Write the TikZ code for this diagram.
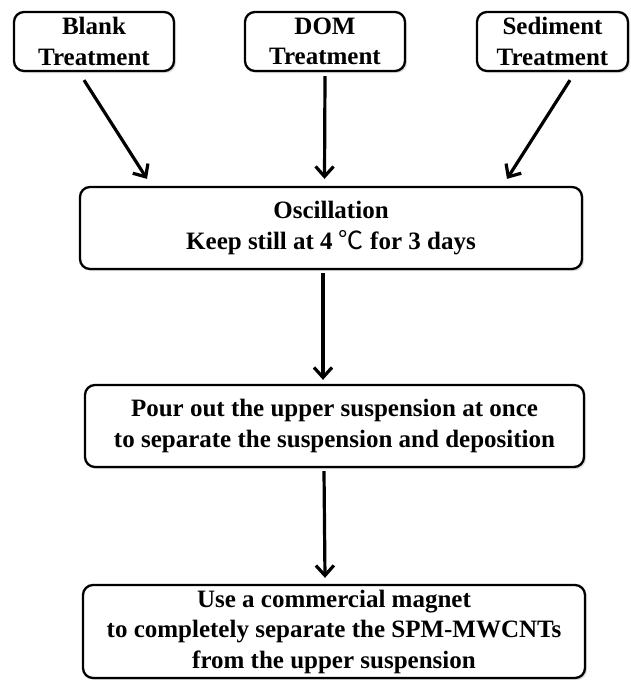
\documentclass[tikz,border=0pt]{standalone}
\usepackage{fontspec}
\setmainfont{Liberation Serif}
\newfontfamily\cjkfont{Noto Sans CJK SC}
\usetikzlibrary{arrows.meta,shadows}
\begin{document}
\begin{tikzpicture}[x=1pt,y=-1pt,
  box/.style={draw, line width=2.3pt, rounded corners=10pt, fill=white,
    align=center, font=\fontsize{25}{30.5}\selectfont\bfseries, inner sep=0pt,
    drop shadow={opacity=0.25, shadow xshift=2pt, shadow yshift=-2pt}},
  arr/.style={line width=3.2pt, -{Straight Barb[length=10pt,width=18pt,line width=3.2pt]}}]
\useasboundingbox (0,0) rectangle (630,680);
\node[box, minimum width=160pt, minimum height=59pt] (blank) at (94,41.5) {Blank\\Treatment};
\node[box, minimum width=160pt, minimum height=59pt] (dom) at (325,41.5) {DOM\\Treatment};
\node[box, minimum width=151pt, minimum height=59pt] (sed) at (552.5,41.5) {Sediment\\Treatment};
\node[box, minimum width=502pt, minimum height=82pt] (osc) at (331,228) {Oscillation\\Keep still at 4 {\cjkfont\mdseries ℃} for 3 days};
\node[box, minimum width=499pt, minimum height=82pt] (pour) at (334.5,426) {Pour out the upper suspension at once\\to separate the suspension and deposition};
\node[box, minimum width=502pt, minimum height=93pt] (use) at (334,631.5) {Use a commercial magnet\\to completely separate the SPM-MWCNTs\\from the upper suspension};
\draw[arr] ([shift={(-10,8)}]blank.south) -- ([shift={(-184,-7)}]osc.north);
\draw[arr] ([shift={(0,4)}]dom.south) -- ([shift={(-6.5,-7)}]osc.north);
\draw[arr] ([shift={(17.5,8)}]sed.south) -- ([shift={(176,-7)}]osc.north);
\draw[arr] ([shift={(-8,3)}]osc.south) -- ([shift={(-11.5,-4)}]pour.north);
\draw[arr] ([shift={(-10.5,3)}]pour.south) -- ([shift={(-9,-6)}]use.north);
\end{tikzpicture}
\end{document}
